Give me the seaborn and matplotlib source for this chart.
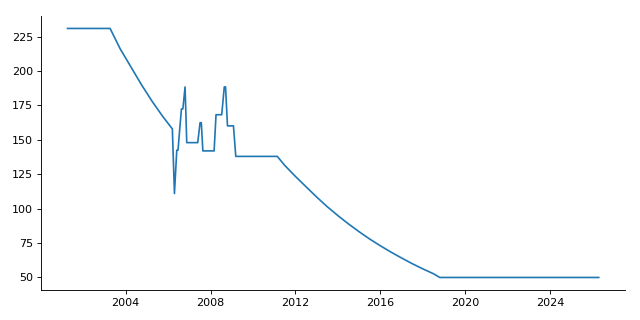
import matplotlib
matplotlib.use("Agg")
import matplotlib.pyplot as plt
import matplotlib.dates as mdates
import seaborn as sns
import pandas as pd

# Values
dates = [
    "2001-04-05", "2003-04-08",
    "2003-10-01", "2004-04-01", "2004-10-01", "2005-04-01", "2005-10-01",
    "2006-03-15", "2006-04-20", "2006-05-30", "2006-06-20", "2006-08-18",
    "2006-09-12", "2006-10-20", "2006-11-18", "2007-05-26", "2007-07-05",
    "2007-07-27", "2007-08-22", "2008-03-03", "2008-04-05", "2008-07-12",
    "2008-08-25", "2008-09-16", "2008-10-19", "2009-01-30", "2009-03-11",
    "2011-02-24",
    "2011-07-01", "2012-01-01", "2012-07-01", "2013-01-01", "2013-07-01",
    "2014-01-01", "2014-07-01", "2015-01-01", "2015-07-01", "2016-01-01",
    "2016-07-01", "2017-01-01", "2017-07-01", "2018-01-01", "2018-07-01",
    "2018-10-23", "2026-04-20",
]
values = [
    231.0, 231.0,
    216.0, 203.0, 190.0, 178.0, 167.0,
    158.0, 111.0, 142.5, 142.5, 172.5,
    172.5, 188.5, 148.0, 148.0, 162.5,
    162.5, 142.0, 142.0, 168.3, 168.3,
    188.5, 188.5, 160.2, 160.2, 138.0,
    138.0,
    131.5, 123.5, 116.0, 108.5, 101.5,
    95.0, 89.0, 83.3, 78.0, 73.1,
    68.5, 64.2, 60.1, 56.3, 52.8,
    50.0, 50.0,
]

df = pd.DataFrame({"date": pd.to_datetime(dates), "value": values})

fig, ax = plt.subplots(figsize=(8, 4), dpi=80)
sns.lineplot(data=df, x="date", y="value", ax=ax, color="#1f77b4", linewidth=1.5)
ax.set_xlabel("")
ax.set_ylabel("")
ax.xaxis.set_major_locator(mdates.YearLocator(4))
ax.xaxis.set_major_formatter(mdates.DateFormatter("%Y"))
sns.despine(ax=ax)
fig.subplots_adjust(left=0.064, right=0.977, top=0.95, bottom=0.094)
fig.savefig("out.png", dpi=80)
